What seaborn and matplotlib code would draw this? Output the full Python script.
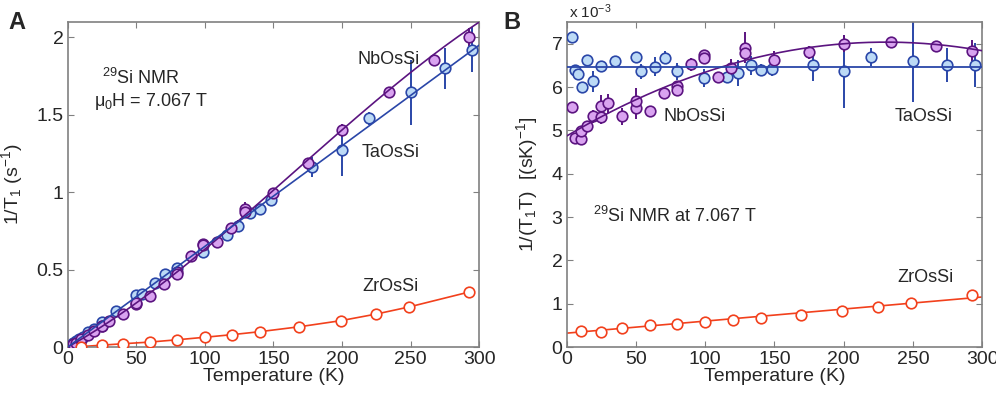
import numpy as np
import pandas as pd
import matplotlib
matplotlib.use("Agg")
import matplotlib.pyplot as plt
import seaborn as sns

# NbOsSi
nb_T = [4, 6, 10, 10, 15, 19, 25, 25, 30, 40, 50, 50, 60, 70, 80, 80, 90, 99, 99,
        109, 119, 129, 129, 150, 175, 200, 234, 267, 293]
nb_t1t = [5.53, 4.83, 4.81, 4.98, 5.10, 5.32, 5.30, 5.57, 5.63, 5.32, 5.51, 5.67, 5.45,
          5.86, 6.02, 5.94, 6.52, 6.74, 6.66, 6.23, 6.44, 6.91, 6.78, 6.62, 6.80, 7.00,
          7.05, 6.95, 6.84]
nb_t1t_err = [0.06, 0.05, 0.05, 0.08, 0.12, 0.15, 0.15, 0.25, 0.22, 0.2, 0.25, 0.3, 0.12,
              0.1, 0.08, 0.08, 0.15, 0.08, 0.08, 0.07, 0.2, 0.35, 0.1, 0.2, 0.15, 0.2,
              0.06, 0.06, 0.25]
nb_t1 = [0.022, 0.029, 0.048, 0.050, 0.077, 0.101, 0.133, 0.139, 0.169, 0.213, 0.276,
         0.284, 0.327, 0.410, 0.482, 0.475, 0.587, 0.667, 0.659, 0.679, 0.766, 0.891,
         0.875, 0.993, 1.19, 1.40, 1.65, 1.856, 2.004]
nb_t1_err = [0.0002, 0.0003, 0.0005, 0.0008, 0.002, 0.003, 0.004, 0.006, 0.007, 0.008,
             0.013, 0.015, 0.007, 0.007, 0.006, 0.006, 0.014, 0.008, 0.008, 0.008, 0.024,
             0.045, 0.013, 0.03, 0.026, 0.04, 0.014, 0.016, 0.06]

# TaOsSi
ta_T = [4, 6, 8, 11, 14.5, 19, 25, 35, 50, 54, 64, 71, 80, 99, 116, 124, 133, 140, 148,
        178, 200, 220, 250, 275, 295]
ta_t1t = [7.15, 6.40, 6.31, 5.99, 6.62, 6.13, 6.49, 6.59, 6.70, 6.36, 6.47, 6.68, 6.36,
          6.21, 6.24, 6.33, 6.50, 6.39, 6.41, 6.50, 6.36, 6.69, 6.60, 6.51, 6.51]
ta_t1t_err = [0.03, 0.04, 0.04, 0.1, 0.04, 0.25, 0.05, 0.05, 0.08, 0.18, 0.22, 0.15, 0.2,
              0.2, 0.08, 0.3, 0.22, 0.14, 0.15, 0.35, 0.85, 0.2, 0.95, 0.4, 0.5]
ta_t1 = [0.029, 0.038, 0.050, 0.066, 0.096, 0.117, 0.162, 0.231, 0.335, 0.343, 0.414,
         0.474, 0.509, 0.615, 0.724, 0.785, 0.865, 0.895, 0.95, 1.163, 1.272, 1.477,
         1.647, 1.80, 1.92]
ta_t1_err = [0.0001, 0.0002, 0.0003, 0.001, 0.0006, 0.005, 0.0013, 0.002, 0.004, 0.01,
             0.014, 0.011, 0.016, 0.02, 0.009, 0.037, 0.029, 0.02, 0.022, 0.065, 0.17,
             0.044, 0.21, 0.13, 0.145]

# ZrOsSi
zr_T = [10, 25, 40, 60, 80, 100, 120, 140, 169, 199, 225, 249, 293]
zr_t1t = [0.38, 0.34, 0.45, 0.50, 0.535, 0.58, 0.63, 0.675, 0.745, 0.82, 0.92, 1.01, 1.19]
zr_t1 = [0.003, 0.012, 0.021, 0.032, 0.047, 0.063, 0.080, 0.099, 0.131, 0.170, 0.213,
         0.259, 0.356]

# fit parameters (1/T1T in units of 1e-3)
nb_fit_A = [4.9, 0.0177, -3.57e-5]
nb_fit_B = [4.87, 0.0188, -4.08e-5]
ta_fit_A = 6.5
ta_fit_B = 6.46
zr_fit_B = [0.32, 0.00278]

c_nb_line, c_nb_face = "#5b1480", "#d9a3f0"
c_ta_line, c_ta_face = "#2a46a8", "#bcdaf6"
c_zr_line = "#f2401c"

sns.set_style("ticks")
plt.rcParams["font.family"] = ["Liberation Sans", "DejaVu Sans"]
plt.rcParams["mathtext.fontset"] = "custom"
plt.rcParams["mathtext.rm"] = "Liberation Sans"
plt.rcParams["mathtext.it"] = "Liberation Sans"

fig = plt.figure(figsize=(9.96, 3.93), dpi=100)
axA = fig.add_axes([0.068, 0.117, 0.413, 0.827])
axB = fig.add_axes([0.569, 0.117, 0.417, 0.827])

Tfit = np.linspace(0, 300, 301)


def points(ax, T, y, err, face, edge):
    if err is not None:
        ax.errorbar(T, y, yerr=err, fmt="none", ecolor=edge, elinewidth=1.4, capsize=0, zorder=2)
    sns.scatterplot(x=T, y=y, ax=ax, s=58, color=face, edgecolor=edge, linewidth=1.2,
                    zorder=3, legend=False)


# ---- panel A
sns.lineplot(x=Tfit, y=Tfit * np.polyval(nb_fit_A[::-1], Tfit) / 1000, ax=axA,
             color=c_nb_line, lw=1.2, zorder=4)
sns.lineplot(x=Tfit, y=Tfit * ta_fit_A / 1000, ax=axA, color=c_ta_line, lw=1.2, zorder=4)
sns.lineplot(x=zr_T, y=zr_t1, ax=axA, color=c_zr_line, lw=1.2, zorder=2)
points(axA, ta_T, ta_t1, ta_t1_err, c_ta_face, c_ta_line)
points(axA, nb_T, nb_t1, nb_t1_err, c_nb_face, c_nb_line)
points(axA, zr_T, zr_t1, None, "white", c_zr_line)

axA.set_xlim(0, 300)
axA.set_ylim(0, 2.1)
axA.set_yticks([0, 0.5, 1, 1.5, 2])
axA.set_yticklabels(["0", "0.5", "1", "1.5", "2"])
axA.set_xlabel("Temperature (K)", fontsize=14, labelpad=0)
axA.set_ylabel("1/T$_1$ (s$^{-1}$)", fontsize=14, labelpad=8)
axA.text(25, 1.74, "$^{29}$Si NMR", fontsize=13, va="center", ha="left")
axA.text(19, 1.585, "$\\mu_0$H = 7.067 T", fontsize=13, va="center", ha="left")
axA.text(211, 1.86, "NbOsSi", fontsize=13, va="center")
axA.text(214, 1.255, "TaOsSi", fontsize=13, va="center")
axA.text(215, 0.39, "ZrOsSi", fontsize=13, va="center")
fig.text(0.008, 0.944, "A", fontsize=17, fontweight="bold", va="center")

# ---- panel B
sns.lineplot(x=Tfit, y=np.polyval(nb_fit_B[::-1], Tfit), ax=axB, color=c_nb_line, lw=1.2,
             zorder=4)
sns.lineplot(x=Tfit, y=np.full_like(Tfit, ta_fit_B), ax=axB, color=c_ta_line, lw=1.3,
             zorder=4)
sns.lineplot(x=Tfit, y=np.polyval(zr_fit_B[::-1], Tfit), ax=axB, color=c_zr_line, lw=1.2,
             zorder=2)
points(axB, ta_T, ta_t1t, ta_t1t_err, c_ta_face, c_ta_line)
points(axB, nb_T, nb_t1t, nb_t1t_err, c_nb_face, c_nb_line)
points(axB, zr_T, zr_t1t, None, "white", c_zr_line)

axB.set_xlim(0, 300)
axB.set_ylim(0, 7.5)
axB.set_yticks(range(8))
axB.set_xlabel("Temperature (K)", fontsize=14, labelpad=0)
axB.set_ylabel("1/(T$_1$T)  [(sK)$^{-1}$]", fontsize=14, labelpad=8)
axB.text(0.005, 1.004, "x 10$^{-3}$", transform=axB.transAxes, fontsize=11, va="bottom")
axB.text(70, 5.33, "NbOsSi", fontsize=13, va="center")
axB.text(237, 5.33, "TaOsSi", fontsize=13, va="center")
axB.text(239, 1.6, "ZrOsSi", fontsize=13, va="center")
axB.text(19, 3.02, "$^{29}$Si NMR at 7.067 T", fontsize=13, va="center")
fig.text(0.505, 0.944, "B", fontsize=17, fontweight="bold", va="center")

for ax in (axA, axB):
    ax.set_xticks(range(0, 301, 50))
    ax.tick_params(direction="in", top=True, right=True, labelsize=14, length=4,
                   color="#808080", pad=3)
    for sp in ax.spines.values():
        sp.set_color("#808080")
        sp.set_linewidth(1.2)

fig.savefig("out.png", dpi=100)
